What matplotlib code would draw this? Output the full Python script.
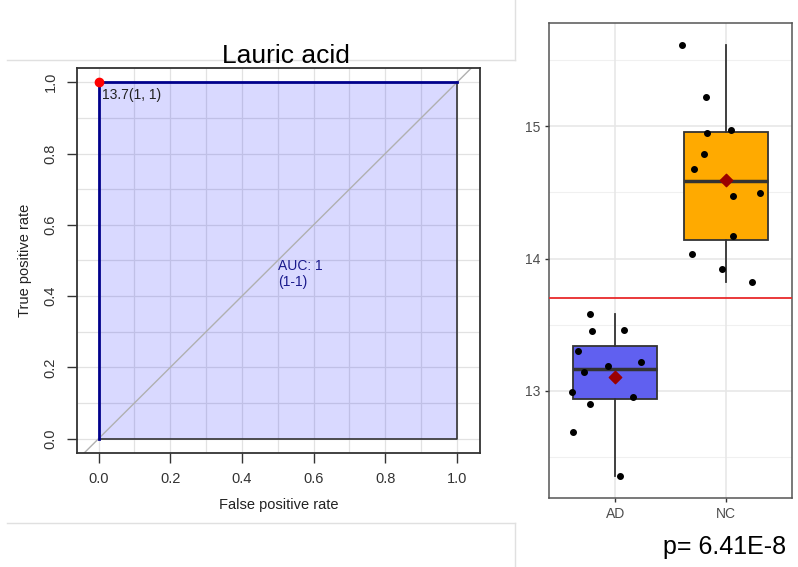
import matplotlib.pyplot as plt
import numpy as np
from matplotlib.lines import Line2D

plt.rcParams['font.family'] = ['Liberation Sans', 'DejaVu Sans']

# ROC curve (FPR, TPR) and best cutoff
fpr = [0.0, 0.0, 1.0]
tpr = [0.0, 1.0, 1.0]
cutoff = 13.7
auc_text = "AUC: 1\n(1-1)"

# box plot data
groups = ["AD", "NC"]
ad_vals = [13.58, 13.45, 13.46, 13.30, 13.19, 13.22, 13.14, 12.99, 12.95, 12.90, 12.69, 12.36]
ad_jit = [-0.23, -0.21, 0.075, -0.34, -0.07, 0.23, -0.28, -0.39, 0.16, -0.23, -0.38, 0.045]
nc_vals = [15.614, 15.224, 14.974, 14.947, 14.793, 14.675, 14.499, 14.476, 14.174, 14.035, 13.922, 13.824]
nc_jit = [-0.40, -0.18, 0.05, -0.17, -0.20, -0.29, 0.31, 0.07, 0.07, -0.31, -0.03, 0.235]
box_colors = ["#6060F0", "#FFAA00"]
p_text = "p= 6.41E-8"

fig = plt.figure(figsize=(7.98, 5.67), dpi=100)

# ---- left: ROC ----
ax = fig.add_axes([0.0965, 0.2011, 0.505, 0.679])
ax.set_xlim(-0.06, 1.064)
ax.set_ylim(-0.04, 1.04)
for v in np.arange(0, 1.01, 0.1):
    ax.axvline(v, color="#e2e2e2", lw=0.9, zorder=0)
    ax.axhline(v, color="#e2e2e2", lw=0.9, zorder=0)
ax.fill_between([0, 1], [0, 0], [1, 1], color=(0, 0, 1, 0.15), lw=0, zorder=1)
ax.plot([0, 1, 1], [0, 0, 1], color="#333333", lw=1.2, zorder=2)
ax.axline((0, 0), (1, 1), color="#b0b0b0", lw=1, zorder=2)
ax.plot(fpr, tpr, color="#00008B", lw=2, zorder=3)
ax.plot([0], [1], "o", color="red", ms=6, zorder=4)
ax.text(0.01, 0.985, f"{cutoff}(1, 1)", ha="left", va="top", fontsize=10, color="#222222")
ax.text(0.5, 0.462, auc_text, ha="left", va="center", fontsize=10, color="#1a1a8c", linespacing=1.15)
ax.set_xticks(np.arange(0, 1.01, 0.2))
ax.set_yticks(np.arange(0, 1.01, 0.2))
ax.set_xticklabels([f"{v:.1f}" for v in np.arange(0, 1.01, 0.2)])
ax.set_yticklabels([f"{v:.1f}" for v in np.arange(0, 1.01, 0.2)], rotation=90, va="center")
ax.tick_params(length=7, width=1, colors="#333333", labelsize=10.5, pad=7)
for s in ax.spines.values():
    s.set_color("#333333")
    s.set_linewidth(1.3)
ax.set_xlabel("False positive rate", fontsize=10.5, color="#222222", labelpad=8)
ax.set_ylabel("True positive rate", fontsize=10.5, color="#222222", labelpad=8)
fig.text(0.358, 0.902, "Lauric acid", ha="center", va="center", fontsize=19)

# ---- right: box plot ----
bx = fig.add_axes([0.688, 0.1217, 0.3045, 0.8377])
bx.set_xlim(0.4, 2.6)
bx.set_ylim(12.19, 15.78)
for v in [12.5, 13.5, 14.5, 15.5]:
    bx.axhline(v, color="#f0f0f0", lw=0.8, zorder=0)
for v in [13, 14, 15]:
    bx.axhline(v, color="#e6e6e6", lw=1.1, zorder=0)
for v in [1, 2]:
    bx.axvline(v, color="#e6e6e6", lw=1.1, zorder=0)
bp = bx.boxplot([ad_vals, nc_vals], positions=[1, 2], widths=0.76, patch_artist=True,
                showfliers=False, whis=1.5,
                medianprops=dict(color="#333333", lw=2.5),
                whiskerprops=dict(color="#333333", lw=1.3),
                capprops=dict(lw=0),
                boxprops=dict(edgecolor="#333333", lw=1.3), zorder=2)
for patch, c in zip(bp["boxes"], box_colors):
    patch.set_facecolor(c)
bx.axhline(cutoff, color="#E8292B", lw=1.3, zorder=3)
for i, (vals, jit) in enumerate([(ad_vals, ad_jit), (nc_vals, nc_jit)]):
    bx.scatter(np.array(jit) + i + 1, vals, s=16, color="black", zorder=4)
    bx.scatter([i + 1], [np.mean(vals)], marker="D", s=40, color="#9B0000", zorder=5)
bx.set_xticks([1, 2])
bx.set_xticklabels(groups)
bx.set_yticks([13, 14, 15])
bx.tick_params(length=3, width=1, colors="#333333", labelcolor="#4d4d4d", labelsize=10)
for s in bx.spines.values():
    s.set_color("#555555")
    s.set_linewidth(1.1)
fig.text(0.985, 0.035, p_text, ha="right", va="center", fontsize=18)

# screenshot frame lines
for xs, ys in [([7, 515], [60, 60]), ([7, 515], [523, 523]), ([515, 515], [0, 60]), ([515, 515], [523, 567])]:
    fig.add_artist(Line2D([x / 798 for x in xs], [1 - y / 567 for y in ys], color="#e0e0e0", lw=1))

fig.savefig("out.png", dpi=100)
